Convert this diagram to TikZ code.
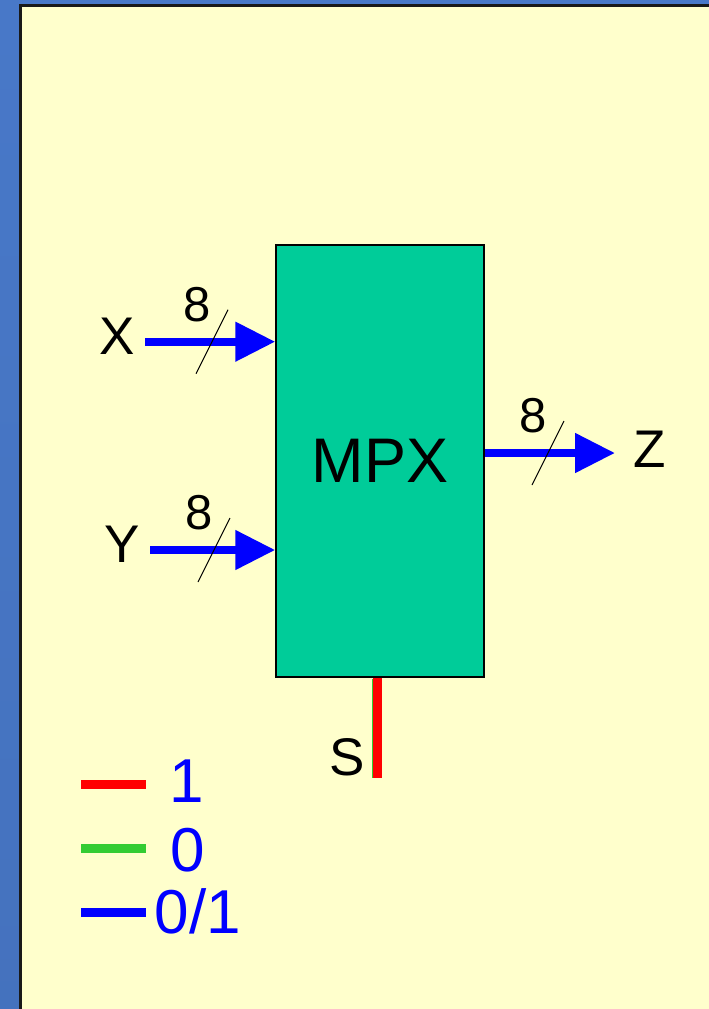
\documentclass[tikz,border=0pt]{standalone}
\usepackage{fontspec}
\setmainfont{Liberation Sans}
\usetikzlibrary{arrows.meta, positioning, calc}

\definecolor{slideblue}{RGB}{72,120,200}
\definecolor{slidelight}{RGB}{98,160,255}
\definecolor{paper}{RGB}{255,255,204}
\definecolor{boxgreen}{RGB}{0,204,153}
\definecolor{sigred}{RGB}{255,0,0}
\definecolor{siggreen}{RGB}{51,204,51}
\definecolor{sigblue}{RGB}{0,0,255}

\begin{document}
\begin{tikzpicture}[
            x=1pt, y=-1pt,
            % styles
            block/.style={rectangle, draw=black, line width=1.5pt, fill=boxgreen, minimum width=208pt, minimum height=432pt, inner sep=0pt, font=\fontsize{63}{70}\selectfont},
            pin/.style={inner sep=0pt, font=\fontsize{53}{60}\selectfont},
            width/.style={inner sep=0pt, font=\fontsize{49}{54}\selectfont},
            legend/.style={inner sep=0pt, text=sigblue, font=\fontsize{62}{70}\selectfont},
            bus/.style={line width=8pt, sigblue, -{Triangle[length=40pt,width=38pt]}},
            slash/.style={black, line width=1pt},
            wire/.style={line width=9pt}
        ]
        \useasboundingbox (0,0) rectangle (709,1009);

        % slide frame
        \fill[slideblue] (0,0) rectangle (709,4);
        \shade[top color=slideblue, middle color=slidelight, bottom color=slideblue!95!black] (0,4) rectangle (19,1009);
        \fill[paper] (20,5) rectangle (709,1009);
        \draw[line width=2.5pt, black!90] (20.3,1009) -- (20.3,5.3) -- (709,5.3);

        % multiplexer
        \node (mpx) [block] at (380,461) {MPX};

        % inputs
        \node (x) [pin] at (117,336) {X};
        \node (y) [pin] at (122,544) {Y};
        \coordinate (xin) at (145,341.7);
        \coordinate (yin) at (150,550);
        \draw [bus] (xin) -- (xin -| mpx.west);
        \draw [bus] (yin) -- (yin -| mpx.west);

        % output
        \node (z) [pin] at (650,449) {Z};
        \coordinate (zout) at (615,453);
        \draw [bus] (zout -| mpx.east) -- (zout);

        % bus widths
        \foreach \bx/\by/\name in {212/341.7/xw, 214/550/yw, 548/453/zw} {
            \draw [slash] (\bx-16,\by+32) -- (\bx+16,\by-32);
            \node (\name) [width] at (\bx-15,\by-37) {8};
        }

        % select line
        \node (s) [pin] at (347,757) {S};
        \coordinate (sbot) at (377,778);
        \draw [wire, sigred] (sbot |- mpx.south) -- (sbot);
        \draw [siggreen, line width=0.8pt] ($(sbot |- mpx.south)+(-4.5,0.8)$) -- ($(sbot)+(-4.5,0)$);

        % legend
        \draw [wire, sigred] (81,784) -- (146,784);
        \draw [wire, siggreen] (81,848) -- (146,848);
        \draw [wire, sigblue] (81,912) -- (146,912);
        \node (one) [legend] at (187,781) {1};
        \node (zero) [legend] at (188,850) {0};
        \node (any) [legend] at (198,911) {0/1};

        \end{tikzpicture}
\end{document}
